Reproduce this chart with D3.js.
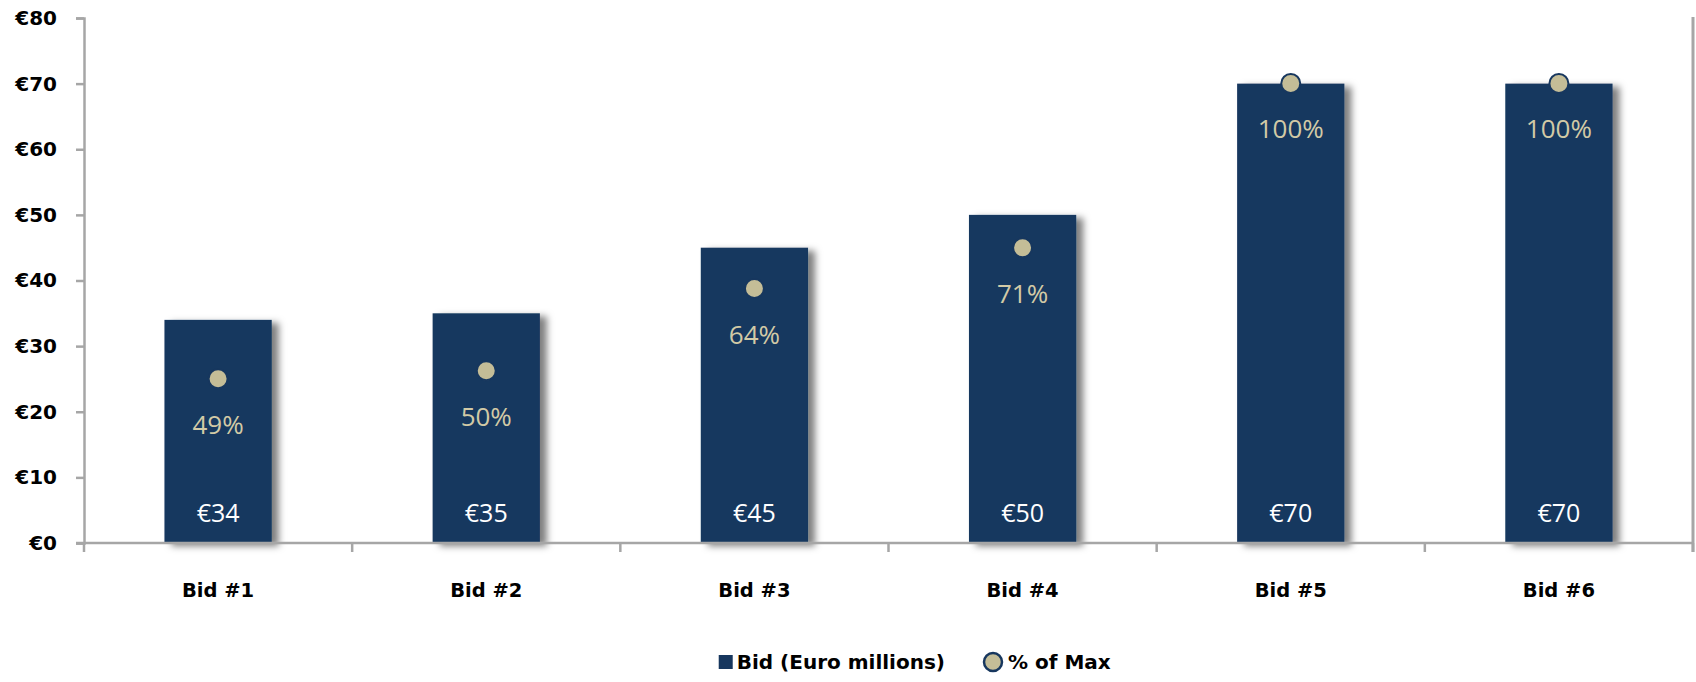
<!DOCTYPE html>
<html>
<head>
<meta charset="utf-8">
<script src="https://cdn.jsdelivr.net/npm/d3@7"></script>
<style>
  html, body { margin: 0; padding: 0; background: #ffffff; }
  svg { display: block; }
</style>
</head>
<body>
<svg id="chart" width="1696" height="682"></svg>
<script>
// ---- data ----
const categories = ["Bid #1", "Bid #2", "Bid #3", "Bid #4", "Bid #5", "Bid #6"];
const bidValues = [34, 35, 45, 50, 70, 70];            // Euro millions
const pctOfMax = [0.486, 0.50, 0.643, 0.714, 1.0, 1.0]; // % of max bid
const yTicks = [0, 10, 20, 30, 40, 50, 60, 70, 80];
const seriesNames = ["Bid (Euro millions)", "% of Max"];
const yDomain = [0, 80];
const y2Domain = [0.2, 1.114]; // hidden secondary axis range

// ---- layout ----
const plot = { left: 84, right: 1693, top: 18, bottom: 543 };
const navy = "#17375e";
const tan = "#c4bd97";
const axisGray = "#a6a6a6";

const svg = d3.select("#chart");

const defs = svg.append("defs");
const f = defs.append("filter").attr("id", "shadow")
  .attr("x", "-20%").attr("y", "-10%").attr("width", "150%").attr("height", "130%");
f.append("feDropShadow").attr("dx", 7).attr("dy", 3).attr("stdDeviation", 3.5)
  .attr("flood-color", "#000").attr("flood-opacity", 0.5);

const x = d3.scaleBand().domain(categories).range([plot.left, plot.right]).paddingInner(0.6).paddingOuter(0.3);
const xBand = d3.scaleBand().domain(categories).range([plot.left, plot.right]);
const y = d3.scaleLinear().domain(yDomain).range([plot.bottom, plot.top]);
const y2 = d3.scaleLinear().domain(y2Domain).range([plot.bottom, plot.top]);

// ---- y axis ----
const yAxis = d3.axisLeft(y).tickValues(yTicks).tickSize(8).tickPadding(19)
  .tickFormat(d => "€" + d);
const gy = svg.append("g").attr("transform", `translate(${plot.left},0)`).call(yAxis);
gy.select(".domain").attr("stroke", axisGray).attr("stroke-width", 2.5);
gy.selectAll(".tick line").attr("stroke", axisGray).attr("stroke-width", 2.5);
gy.selectAll(".tick text")
  .attr("font-family", "DejaVu Sans").attr("font-weight", "bold")
  .attr("font-size", 20).attr("fill", "#000");

// ---- bars ----
const bars = svg.append("g");
bars.selectAll("rect").data(categories).join("rect")
  .attr("x", d => x(d))
  .attr("y", (d, i) => y(bidValues[i]))
  .attr("width", x.bandwidth())
  .attr("height", (d, i) => y(0) - y(bidValues[i]))
  .attr("fill", navy)
  .attr("filter", "url(#shadow)");

// ---- x axis ----
const gx = svg.append("g").attr("transform", `translate(0,${plot.bottom})`);
gx.append("line").attr("x1", plot.left - 8).attr("x2", plot.right)
  .attr("stroke", axisGray).attr("stroke-width", 2.5);
const boundaries = categories.map(c => xBand(c)).concat([plot.right]);
gx.selectAll("line.tk").data(boundaries).join("line").attr("class", "tk")
  .attr("x1", d => d).attr("x2", d => d).attr("y1", 0).attr("y2", 9)
  .attr("stroke", axisGray).attr("stroke-width", 2.5);
gx.selectAll("text").data(categories).join("text")
  .attr("x", d => xBand(d) + xBand.bandwidth() / 2)
  .attr("y", 54)
  .attr("text-anchor", "middle")
  .attr("font-family", "DejaVu Sans").attr("font-weight", "bold")
  .attr("font-size", 19.5).attr("fill", "#000")
  .text(d => d);

// right border (secondary axis line)
svg.append("line").attr("x1", plot.right).attr("x2", plot.right)
  .attr("y1", plot.top - 1).attr("y2", plot.bottom + 9)
  .attr("stroke", axisGray).attr("stroke-width", 3);

// ---- bar value labels ----
svg.append("g").selectAll("text").data(categories).join("text")
  .attr("x", d => x(d) + x.bandwidth() / 2)
  .attr("y", y(0) - 21)
  .attr("text-anchor", "middle")
  .attr("font-family", "Open Sans").attr("font-size", 25)
  .attr("fill", "#ffffff")
  .text((d, i) => "€" + bidValues[i]);

// ---- % of max points ----
svg.append("g").selectAll("circle").data(categories).join("circle")
  .attr("cx", d => x(d) + x.bandwidth() / 2)
  .attr("cy", (d, i) => y2(pctOfMax[i]))
  .attr("r", 9.5)
  .attr("fill", tan)
  .attr("stroke", navy).attr("stroke-width", 2);

svg.append("g").selectAll("text").data(categories).join("text")
  .attr("x", d => x(d) + x.bandwidth() / 2)
  .attr("y", (d, i) => y2(pctOfMax[i]) + 55)
  .attr("text-anchor", "middle")
  .attr("font-family", "Open Sans").attr("font-size", 26)
  .attr("fill", "#d2caa6")
  .text((d, i) => d3.format(".0%")(pctOfMax[i]));

// ---- legend ----
const lg = svg.append("g").attr("transform", "translate(0,662)");
const textFont = { family: "DejaVu Sans", size: 20 };
const t1 = lg.append("text").attr("font-family", textFont.family).attr("font-weight", "bold")
  .attr("font-size", textFont.size).attr("dy", "0.35em").text(seriesNames[0]);
const t2 = lg.append("text").attr("font-family", textFont.family).attr("font-weight", "bold")
  .attr("font-size", textFont.size).attr("dy", "0.35em").text(seriesNames[1]);
const w1 = t1.node().getComputedTextLength();
const t2Start = 1008;
const circX = 993;
const t1End = 945;
t1.attr("x", t1End - w1);
t2.attr("x", t2Start);
lg.append("rect").attr("x", t1End - w1 - 18).attr("y", -7).attr("width", 14).attr("height", 14)
  .attr("fill", navy);
lg.append("circle").attr("cx", circX).attr("cy", 0).attr("r", 9)
  .attr("fill", tan).attr("stroke", navy).attr("stroke-width", 2.5);
</script>
</body>
</html>
